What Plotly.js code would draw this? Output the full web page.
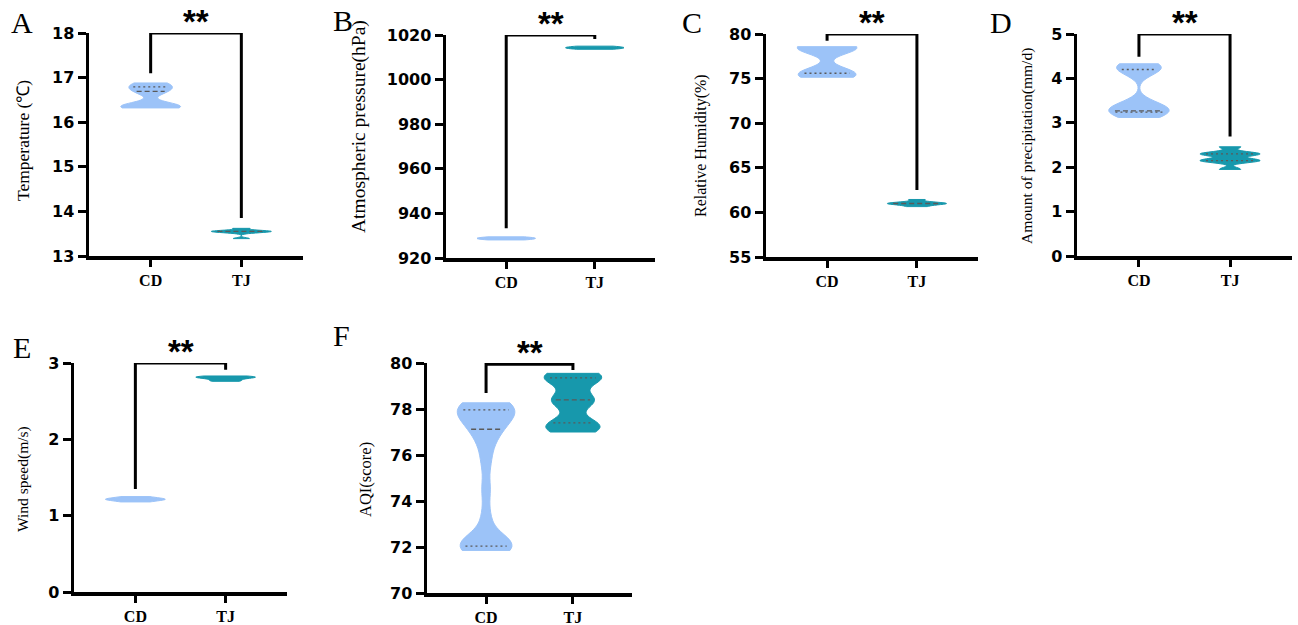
<!DOCTYPE html>
<html>
<head>
<meta charset="utf-8">
<script src="https://cdn.plot.ly/plotly-3.0.1.min.js"></script>
<style>
  html, body { margin: 0; padding: 0; background: #ffffff; }
  #chart { width: 1298px; height: 625px; }
</style>
</head>
<body>
<div id="chart"></div>
<script>
// ---------------- data ----------------
const categories = ['CD', 'TJ'];

// A: Temperature
const tempCD = [16.32, 16.34, 16.35, 16.36, 16.38, 16.66, 16.72, 16.78, 16.84, 16.88];
const tempTJ = [13.39, 13.52, 13.54, 13.55, 13.56, 13.57, 13.62];
const tempQCD = [null, 16.69, 16.79];
const tempQTJ = [null, 13.55, null];

// B: Atmospheric pressure
const presCD = [928.1, 928.5, 928.8, 929.1, 929.5];
const presTJ = [1013.6, 1014.0, 1014.3, 1014.6, 1015.0];
const presQCD = [null, null, null];
const presQTJ = [null, null, null];

// C: Relative humidity
const humCD = [75.15, 75.35, 75.5, 75.6, 75.75, 78.3, 78.45, 78.5, 78.55, 78.58];
const humTJ = [60.65, 60.85, 60.95, 61.0, 61.05, 61.15, 61.45];
const humQCD = [75.6, null, null];
const humQTJ = [null, 61.0, null];

// D: Amount of precipitation
const precCD = [3.12, 3.2, 3.26, 3.3, 3.36, 3.45, 4.12, 4.22, 4.28, 4.33];
const precTJ = [1.95, 2.13, 2.15, 2.17, 2.28, 2.30, 2.32, 2.46];
const precQCD = [3.24, 3.27, 4.2];
const precQTJ = [2.15, null, 2.3];

// E: Wind speed
const windCD = [1.18, 1.2, 1.21, 1.22, 1.23, 1.25];
const windTJ = [2.76, 2.78, 2.8, 2.81, 2.82, 2.83];
const windQCD = [null, null, null];
const windQTJ = [null, null, null];

// F: AQI
const aqiCD = [71.85, 71.9, 72.0, 72.05, 72.1, 72.2, 72.3, 73.3, 74.5, 75.7, 76.5,
               76.95, 77.2, 77.45, 77.65, 77.8, 77.95, 78.05, 78.15, 78.22, 78.27];
const aqiTJ = [77.0, 77.15, 77.3, 77.45, 78.2, 78.38, 78.55, 79.2, 79.35, 79.45, 79.55];
const aqiQCD = [72.04, 77.12, 77.96];
const aqiQTJ = [77.4, 78.4, 79.35];

// significance brackets: CD end, top, TJ end
const bracketCD  = [17.1, 933.3, 79.25, 4.49, 1.35, 78.7];
const bracketTop = [18, 1020, 80, 5, 3, 79.95];
const bracketTJ  = [13.85, 1018.2, 62.5, 2.69, 2.91, 79.7];
const sigLabels  = ['**', '**', '**', '**', '**', '**'];

const panelLetters = ['A', 'B', 'C', 'D', 'E', 'F'];
const yTitles = ['Temperature (℃)', 'Atmospheric pressure(hPa)', 'Relative Humidity(%)',
                 'Amount of precipitation(mm/d)', 'Wind speed(m/s)', 'AQI(score)'];
const yRanges = [[13, 18], [920, 1020], [55, 80], [0, 5], [0, 3], [70, 80]];
const yDticks = [1, 20, 5, 1, 1, 2];

// ---------------- styling / layout ----------------
const W = 1298, H = 625;
const CD_COLOR = '#9cc3f8';
const TJ_COLOR = '#1798ac';
const VW = 0.66;

const panels = [
  {cd: tempCD, tj: tempTJ, qcd: tempQCD, qtj: tempQTJ, bw: [0.09, 0.02], px: [89, 303],   py: [33, 256],  tx: 23,   ty: 141, ts: 17.5, lx: 22,   ly: 22},
  {cd: presCD, tj: presTJ, qcd: presQCD, qtj: presQTJ, bw: [0.35, 0.35], px: [446, 655],  py: [35, 258],  tx: 359,  ty: 127, ts: 19.5, lx: 343,  ly: 20},
  {cd: humCD,  tj: humTJ,  qcd: humQCD,  qtj: humQTJ,  bw: [0.7, 0.12],  px: [766, 978],  py: [34, 257],  tx: 701,  ty: 146, ts: 16,   lx: 692,  ly: 22},
  {cd: precCD, tj: precTJ, qcd: precQCD, qtj: precQTJ, bw: [0.14, 0.045],px: [1077, 1292],py: [34, 256],  tx: 1027, ty: 146, ts: 15.5, lx: 1001, ly: 22},
  {cd: windCD, tj: windTJ, qcd: windQCD, qtj: windQTJ, bw: [0.015, 0.012],px: [74, 287],  py: [363, 592], tx: 23,   ty: 479, ts: 15.5, lx: 22,   ly: 347},
  {cd: aqiCD,  tj: aqiTJ,  qcd: aqiQCD,  qtj: aqiQTJ,  bw: [0.5, 0.32],  px: [427, 632],  py: [363, 593], tx: 365,  ty: 480, ts: 16.5, lx: 341,  ly: 335}
];

function kde(vals, bw, y) {
  let s = 0;
  for (const v of vals) { const z = (y - v) / bw; s += Math.exp(-0.5 * z * z); }
  return s;
}
function maxKde(vals, bw) {
  const lo = Math.min(...vals), hi = Math.max(...vals);
  let m = 0;
  for (let i = 0; i <= 400; i++) { m = Math.max(m, kde(vals, bw, lo + (hi - lo) * i / 400)); }
  return m;
}

const traces = [];
const shapes = [];
const annotations = [];
const layout = {
  width: W, height: H,
  margin: {l: 0, r: 0, t: 0, b: 0},
  paper_bgcolor: '#ffffff', plot_bgcolor: 'rgba(0,0,0,0)',
  showlegend: false,
  font: {family: 'Liberation Sans, Arial, sans-serif', color: '#000000'}
};

panels.forEach((p, i) => {
  const n = i + 1;
  const xa = n === 1 ? 'x' : 'x' + n;
  const ya = n === 1 ? 'y' : 'y' + n;
  const xk = n === 1 ? 'xaxis' : 'xaxis' + n;
  const yk = n === 1 ? 'yaxis' : 'yaxis' + n;

  layout[xk] = {
    type: 'linear', domain: [p.px[0] / W, p.px[1] / W], anchor: ya,
    range: [-0.68, 1.68], tickmode: 'array', tickvals: [0, 1], ticktext: categories,
    showline: true, linewidth: 3.5, linecolor: '#000', ticks: 'outside', ticklen: 7, tickwidth: 3, tickcolor: '#000',
    showgrid: false, zeroline: false, fixedrange: true,
    tickfont: {family: 'Liberation Serif, Times New Roman, serif', size: 16, weight: 'bold', color: '#000'}
  };
  layout[yk] = {
    type: 'linear', domain: [1 - p.py[1] / H, 1 - p.py[0] / H], anchor: xa,
    range: yRanges[i], dtick: yDticks[i], tick0: yRanges[i][0],
    showline: true, linewidth: 3.5, linecolor: '#000', ticks: 'outside', ticklen: 8, tickwidth: 3, tickcolor: '#000',
    showgrid: false, zeroline: false, fixedrange: true,
    tickfont: {family: 'DejaVu Sans, Liberation Sans, sans-serif', size: 16, weight: 'bold', color: '#000'}
  };

  const groups = [
    {vals: p.cd, q: p.qcd, bw: p.bw[0], c: 0, color: CD_COLOR, name: categories[0]},
    {vals: p.tj, q: p.qtj, bw: p.bw[1], c: 1, color: TJ_COLOR, name: categories[1]}
  ];
  groups.forEach(g => {
    traces.push({
      type: 'violin', x0: g.c, y: g.vals, xaxis: xa, yaxis: ya, name: g.name,
      spanmode: 'hard', bandwidth: g.bw, width: VW, scalemode: 'width',
      fillcolor: g.color, line: {color: g.color, width: 1},
      points: false, box: {visible: false}, meanline: {visible: false},
      hoverinfo: 'skip', opacity: 1
    });
    const mk = maxKde(g.vals, g.bw);
    g.q.forEach((qv, qi) => {
      if (qv === null) return;
      const hw = (VW / 2) * kde(g.vals, g.bw, qv) / mk * 0.8;
      shapes.push({
        type: 'line', xref: xa, yref: ya, x0: g.c - hw, x1: g.c + hw, y0: qv, y1: qv,
        line: {color: '#5a5a5a', width: 1.3, dash: qi === 1 ? '5px,3px' : '2px,3px'}
      });
    });
  });

  // significance bracket
  shapes.push({
    type: 'path', xref: xa, yref: ya,
    path: `M 0,${bracketCD[i]} L 0,${bracketTop[i]} L 1,${bracketTop[i]} L 1,${bracketTJ[i]}`,
    line: {color: '#000', width: 3}
  });
  annotations.push({
    xref: xa, yref: ya, x: 0.5, y: bracketTop[i], text: sigLabels[i], showarrow: false,
    xanchor: 'center', yanchor: 'bottom', yshift: -9,
    font: {family: 'Liberation Sans, Arial, sans-serif', size: 33, weight: 'bold', color: '#000'}
  });
  // y-axis title
  annotations.push({
    xref: 'paper', yref: 'paper', x: p.tx / W, y: 1 - p.ty / H, text: yTitles[i], showarrow: false,
    textangle: -90, xanchor: 'center', yanchor: 'middle',
    font: {family: 'Liberation Serif, Times New Roman, serif', size: p.ts, color: '#000'}
  });
  // panel letter
  annotations.push({
    xref: 'paper', yref: 'paper', x: p.lx / W, y: 1 - p.ly / H, text: panelLetters[i], showarrow: false,
    xanchor: 'center', yanchor: 'middle',
    font: {family: 'Liberation Serif, Times New Roman, serif', size: 30, color: '#000'}
  });
});

layout.shapes = shapes;
layout.annotations = annotations;

Plotly.newPlot('chart', traces, layout, {staticPlot: true, displayModeBar: false});
</script>
</body>
</html>
